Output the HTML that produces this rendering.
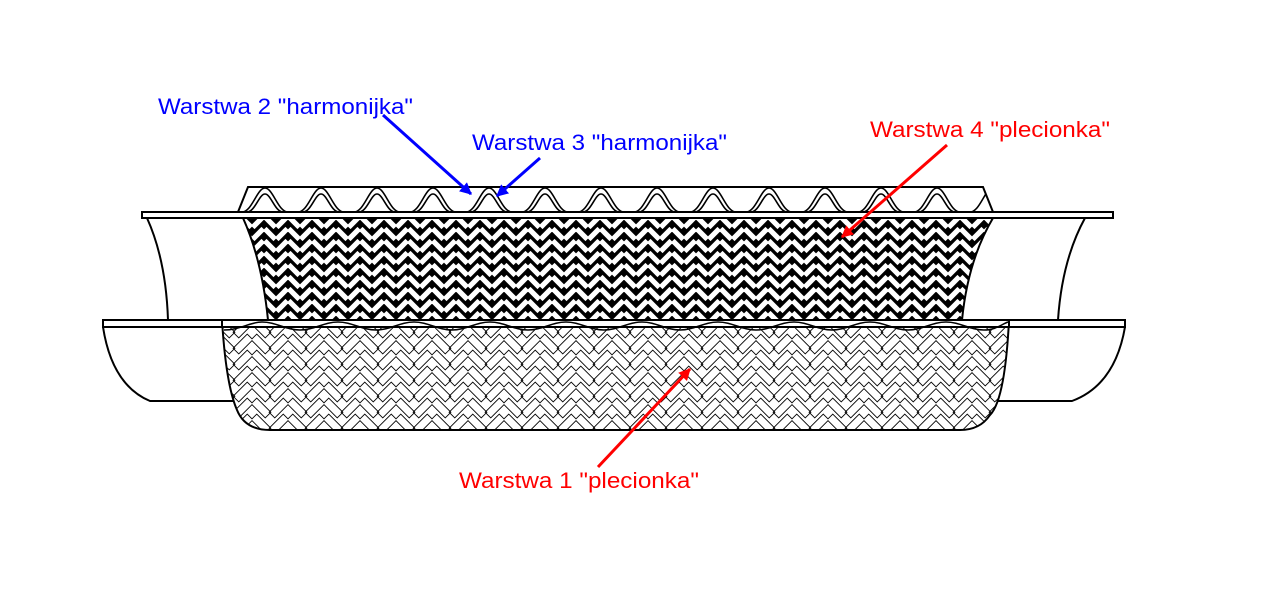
<!DOCTYPE html>
<html><head><meta charset="utf-8"><style>
html,body{margin:0;padding:0;background:#fff;}
svg{display:block;}
text{font-family:"Liberation Sans",Arial,sans-serif;font-size:22px;}
</style></head><body>
<svg width="1286" height="605" viewBox="0 0 1286 605" xmlns="http://www.w3.org/2000/svg">
<defs>
<pattern id="dark" width="24" height="12" patternUnits="userSpaceOnUse">
<rect width="24" height="12" fill="#000"/>
<g fill="#fff">
<rect x="-7.5" y="-2.6" width="15" height="5.2" transform="translate(6,6) rotate(45)"/>
<rect x="-7.5" y="-2.6" width="15" height="5.2" transform="translate(6,-6) rotate(45)"/>
<rect x="-7.5" y="-2.6" width="15" height="5.2" transform="translate(6,18) rotate(45)"/>
<rect x="-7.5" y="-2.6" width="15" height="5.2" transform="translate(18,6) rotate(-45)"/>
<rect x="-7.5" y="-2.6" width="15" height="5.2" transform="translate(18,-6) rotate(-45)"/>
<rect x="-7.5" y="-2.6" width="15" height="5.2" transform="translate(18,18) rotate(-45)"/>
</g>
</pattern>
<pattern id="light" width="36" height="16" patternUnits="userSpaceOnUse">
<rect width="36" height="16" fill="#fff"/>
<g fill="none" stroke="#000" stroke-width="0.9">
<rect x="-10" y="-4" width="20" height="8" transform="translate(9,8) rotate(45)"/>
<rect x="-10" y="-4" width="20" height="8" transform="translate(9,-8) rotate(45)"/>
<rect x="-10" y="-4" width="20" height="8" transform="translate(9,24) rotate(45)"/>
<rect x="-10" y="-4" width="20" height="8" transform="translate(27,8) rotate(-45)"/>
<rect x="-10" y="-4" width="20" height="8" transform="translate(27,-8) rotate(-45)"/>
<rect x="-10" y="-4" width="20" height="8" transform="translate(27,24) rotate(-45)"/>
</g>
</pattern>
<marker id="ab" markerWidth="12" markerHeight="12" refX="9" refY="5" orient="auto" markerUnits="userSpaceOnUse" viewBox="0 0 10 10">
<path d="M0,0 L10,5 L0,10 z" fill="#0000ff"/></marker>
<marker id="ar" markerWidth="12" markerHeight="12" refX="9" refY="5" orient="auto" markerUnits="userSpaceOnUse" viewBox="0 0 10 10">
<path d="M0,0 L10,5 L0,10 z" fill="#ff0000"/></marker>
<clipPath id="topc"><path d="M248,187 L983,187 L993,212 L238,212 Z"/></clipPath>
</defs>

<g stroke="#000" stroke-width="2" fill="#fff">
<path d="M147,218 Q166,260 168,320" fill="none"/>
<path d="M1085,218 Q1062,260 1058,320" fill="none"/>
<path d="M103,327 Q112,385 150,401 L240,401" />
<path d="M1125,327 Q1115,385 1072,401 L990,401" />
<path d="M243,218 Q262,260 268,320 L962,320 Q968,260 993,218 Z" fill="url(#dark)"/>
<path d="M248,187 L983,187 L993,212 L238,212 Z"/>
<g clip-path="url(#topc)" fill="none" stroke-width="1.6">
<path d="M242,212 C252,212 257,188 265,188 C273,188 278,212 288,212 M298,212 C308,212 313,188 321,188 C329,188 334,212 344,212 M354,212 C364,212 369,188 377,188 C385,188 390,212 400,212 M410,212 C420,212 425,188 433,188 C441,188 446,212 456,212 M466,212 C476,212 481,188 489,188 C497,188 502,212 512,212 M522,212 C532,212 537,188 545,188 C553,188 558,212 568,212 M578,212 C588,212 593,188 601,188 C609,188 614,212 624,212 M634,212 C644,212 649,188 657,188 C665,188 670,212 680,212 M690,212 C700,212 705,188 713,188 C721,188 726,212 736,212 M746,212 C756,212 761,188 769,188 C777,188 782,212 792,212 M802,212 C812,212 817,188 825,188 C833,188 838,212 848,212 M858,212 C868,212 873,188 881,188 C889,188 894,212 904,212 M914,212 C924,212 929,188 937,188 C945,188 950,212 960,212 M970,212 C980,212 985,188 993,188"/>
<path d="M247,212 C255,212 259,194 265,194 C271,194 275,212 283,212 M303,212 C311,212 315,194 321,194 C327,194 331,212 339,212 M359,212 C367,212 371,194 377,194 C383,194 387,212 395,212 M415,212 C423,212 427,194 433,194 C439,194 443,212 451,212 M471,212 C479,212 483,194 489,194 C495,194 499,212 507,212 M527,212 C535,212 539,194 545,194 C551,194 555,212 563,212 M583,212 C591,212 595,194 601,194 C607,194 611,212 619,212 M639,212 C647,212 651,194 657,194 C663,194 667,212 675,212 M695,212 C703,212 707,194 713,194 C719,194 723,212 731,212 M751,212 C759,212 763,194 769,194 C775,194 779,212 787,212 M807,212 C815,212 819,194 825,194 C831,194 835,212 843,212 M863,212 C871,212 875,194 881,194 C887,194 891,212 899,212 M919,212 C927,212 931,194 937,194 C943,194 947,212 955,212"/>
</g>
<rect x="142" y="212" width="971" height="6"/>
<path d="M222,320 L1009,320 Q1005,400 990,415 Q980,430 960,430 L270,430 Q245,430 237,410 Q226,385 222,320 Z" fill="url(#light)"/>
<path d="M103,320 L1125,320 L1125,327 L103,327 Z"/>
<path d="M222,320 L1009,320 L1009,327 L222,327 Z" fill="#fff"/>
<path d="M224,330 C240,330 250,322 262,322 C276,322 286,330 300,330 C314,330 324,322 338,322 C352,322 362,330 376,330 C390,330 400,322 414,322 C428,322 438,330 452,330 C466,330 476,322 490,322 C504,322 514,330 528,330 C542,330 552,322 566,322 C580,322 590,330 604,330 C618,330 628,322 642,322 C656,322 666,330 680,330 C694,330 704,322 718,322 C732,322 742,330 756,330 C770,330 780,322 794,322 C808,322 818,330 832,330 C846,330 856,322 870,322 C884,322 894,330 908,330 C922,330 932,322 946,322 C960,322 970,330 984,330 C996,330 1002,324 1008,322" fill="none" stroke-width="1.5"/>
</g>

<line x1="383" y1="115" x2="471" y2="194" stroke="#0000ff" stroke-width="3" marker-end="url(#ab)"/>
<line x1="540" y1="158" x2="497" y2="196" stroke="#0000ff" stroke-width="3" marker-end="url(#ab)"/>
<line x1="947" y1="145" x2="842" y2="237" stroke="#ff0000" stroke-width="3" marker-end="url(#ar)"/>
<line x1="598" y1="467" x2="690" y2="369" stroke="#ff0000" stroke-width="3" marker-end="url(#ar)"/>

<text x="158" y="114" fill="#0000ff" textLength="255" lengthAdjust="spacingAndGlyphs">Warstwa 2 "harmonijka"</text>
<text x="472" y="150" fill="#0000ff" textLength="255" lengthAdjust="spacingAndGlyphs">Warstwa 3 "harmonijka"</text>
<text x="870" y="137" fill="#ff0000" textLength="240" lengthAdjust="spacingAndGlyphs">Warstwa 4 "plecionka"</text>
<text x="459" y="488" fill="#ff0000" textLength="240" lengthAdjust="spacingAndGlyphs">Warstwa 1 "plecionka"</text>
</svg>
</body></html>
